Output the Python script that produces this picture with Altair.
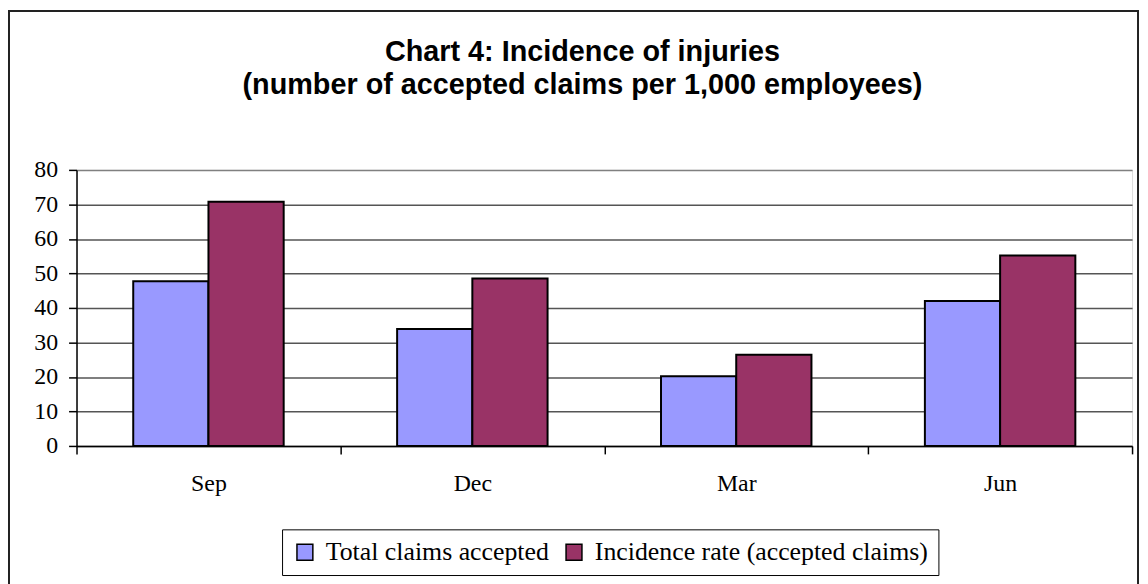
import altair as alt
import pandas as pd

months = ["Sep", "Dec", "Mar", "Jun"]
series_names = ["Total claims accepted", "Incidence rate (accepted claims)"]
total_claims = [47.7, 33.9, 20.2, 42.0]
incidence_rate = [70.8, 48.5, 26.4, 55.2]
y_ticks = [0, 10, 20, 30, 40, 50, 60, 70, 80]
series_colors = ["#9999FF", "#993366"]
title_lines = ["Chart 4: Incidence of injuries",
               "(number of accepted claims per 1,000 employees)"]

rows = []
for i, m in enumerate(months):
    rows.append({"month": m, "series": series_names[0], "value": total_claims[i]})
    rows.append({"month": m, "series": series_names[1], "value": incidence_rate[i]})
df = pd.DataFrame(rows)

bars = alt.Chart(df).mark_bar(stroke="black", strokeWidth=2).encode(
    x=alt.X(
        "month:N", sort=months,
        scale=alt.Scale(paddingInner=0, paddingOuter=0),
        axis=alt.Axis(
            title=None, labelAngle=0, tickBand="extent", grid=False,
            labelFont="Liberation Serif", labelFontSize=24, labelColor="black",
            labelPadding=18, tickSize=8, tickColor="black", tickWidth=1.5,
            domainColor="black", domainWidth=1.5,
        ),
    ),
    xOffset=alt.XOffset("series:N", sort=series_names,
                        scale=alt.Scale(paddingInner=0, paddingOuter=0.754)),
    y=alt.Y(
        "value:Q",
        scale=alt.Scale(domain=[0, 80], nice=False),
        axis=alt.Axis(
            title=None, values=y_ticks,
            labelFont="Liberation Serif", labelFontSize=24, labelColor="black",
            labelPadding=11, tickSize=8, tickColor="black", tickWidth=1.5,
            domainColor="black", domainWidth=1.5,
            gridColor=alt.condition("datum.value == 80",
                                    alt.value("#808080"), alt.value("#555555")),
            gridWidth=1.5,
        ),
    ),
    color=alt.Color(
        "series:N", sort=series_names,
        scale=alt.Scale(domain=series_names, range=series_colors),
        legend=alt.Legend(
            title=None, orient="none", legendX=207, legendY=362,
            direction="horizontal",
            labelFont="Liberation Serif", labelFontSize=26, labelColor="black",
            labelLimit=500, labelOffset=8, columnPadding=12,
            symbolType="square", symbolSize=256, symbolStrokeColor="black",
            symbolStrokeWidth=1.5, symbolOpacity=1,
            padding=10, strokeColor="black", fillColor="white",
        ),
    ),
)

frame_df = pd.DataFrame({"k": [0]})
frame = alt.Chart(frame_df).mark_rect(
    fillOpacity=0, stroke="#222222", strokeWidth=2
).encode(
    x=alt.value(-68), x2=alt.value(1069),
    y=alt.value(-160), y2=alt.value(440),
)

chart = alt.layer(frame, bars).properties(
    width=1063,
    height=278,
    autosize=alt.AutoSizeParams(type="none"),
    padding={"left": 69, "top": 161, "right": 8, "bottom": 137},
    title=alt.TitleParams(
        text=title_lines, font="Liberation Sans", fontSize=29,
        fontWeight="bold", color="black", lineHeight=34,
        anchor="middle", dx=-22, dy=95,
    ),
).configure_view(
    fill="#C0C0C0", stroke="#808080", strokeWidth=1.5
).configure(background="white")

chart.save("out.html", embed_options={"renderer": "svg", "actions": False})
